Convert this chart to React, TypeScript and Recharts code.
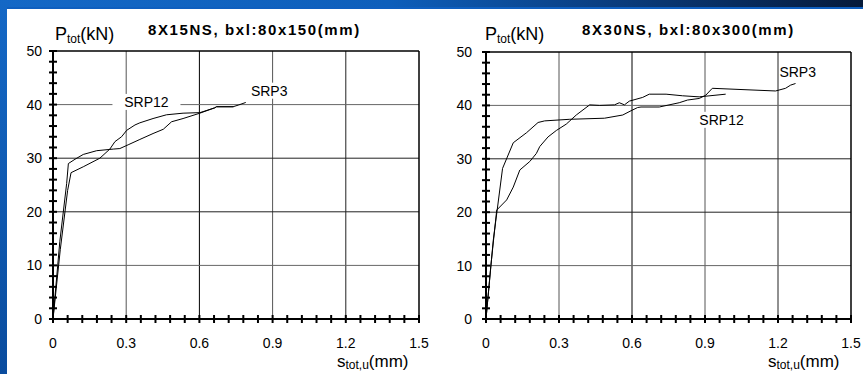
import React from "react";
import { LineChart, Line, XAxis, YAxis, ReferenceLine, ReferenceDot } from "recharts";

// axis ticks
const xLabels = ["0", "0.3", "0.6", "0.9", "1.2", "1.5"];
const xMajor = [0, 0.3, 0.6, 0.9, 1.2, 1.5];
const yMajor = [0, 10, 20, 30, 40, 50];
const xMinor = Array.from({ length: 26 }, (_, i) => +(i * 0.06).toFixed(2));
const yMinor = Array.from({ length: 26 }, (_, i) => i * 2);

// 8X15NS (left)
const leftSrp3X = [0, 0.028, 0.056, 0.063, 0.09, 0.124, 0.179, 0.247, 0.274, 0.308, 0.356, 0.41, 0.452, 0.486, 0.533, 0.602, 0.663, 0.67, 0.738, 0.759, 0.79];
const leftSrp3Y = [0, 14.5, 25.3, 29.0, 29.8, 30.7, 31.4, 31.7, 31.8, 32.5, 33.5, 34.6, 35.4, 36.8, 37.4, 38.4, 39.4, 39.6, 39.6, 39.9, 40.4];
const leftSrp12X = [0, 0.03, 0.06, 0.074, 0.124, 0.192, 0.233, 0.254, 0.281, 0.302, 0.336, 0.356, 0.41, 0.465, 0.533, 0.602, 0.663, 0.67, 0.74];
const leftSrp12Y = [0, 13, 24, 27.3, 28.4, 30.0, 31.7, 33.1, 34.0, 35.2, 36.2, 36.6, 37.4, 38.1, 38.4, 38.5, 39.4, 39.6, 39.6];

// 8X30NS (right)
const rightSrp3X = [0, 0.03, 0.068, 0.112, 0.167, 0.214, 0.241, 0.344, 0.487, 0.562, 0.596, 0.623, 0.637, 0.712, 0.794, 0.828, 0.876, 0.903, 0.93, 1.19, 1.231, 1.252, 1.272];
const rightSrp3Y = [0, 14.8, 28.2, 33.0, 34.9, 36.8, 37.1, 37.4, 37.6, 38.2, 39.0, 39.6, 39.7, 39.7, 40.5, 41.0, 41.3, 41.9, 43.2, 42.7, 43.2, 43.8, 44.1];
const rightSrp12X = [0, 0.02, 0.044, 0.085, 0.112, 0.139, 0.18, 0.207, 0.221, 0.255, 0.289, 0.33, 0.371, 0.426, 0.467, 0.528, 0.548, 0.569, 0.589, 0.644, 0.671, 0.74, 0.808, 0.876, 0.985];
const rightSrp12Y = [0, 10, 20.4, 22.3, 24.7, 27.9, 29.5, 31.0, 32.3, 34.1, 35.3, 36.5, 38.2, 40.1, 40.0, 40.1, 40.5, 40.1, 40.8, 41.5, 42.1, 42.1, 41.8, 41.6, 42.1];

const zip = (xs: number[], ys: number[]) => xs.map((x, i) => ({ x, y: ys[i] }));

const font = '"Liberation Sans", Arial, sans-serif';

const YTick = ({ x, y, payload, gap }: any) => {
  const v = payload.value;
  return (
    <g>
      <line x1={x - 4} x2={x + 4} y1={y} y2={y} stroke="#000" strokeWidth={2} />
      {v % 10 === 0 && (
        <text x={x - gap} y={y + 5} textAnchor="end" fontSize={14} fill="#000" fontFamily={font}>
          {v}
        </text>
      )}
    </g>
  );
};

const XTick = ({ x, y, payload }: any) => {
  const i = Math.round(payload.value / 0.06);
  return (
    <g>
      <line x1={x} x2={x} y1={y - 4} y2={y + 4} stroke="#000" strokeWidth={2} />
      {i % 5 === 0 && (
        <text x={x} y={y + 29} textAnchor="middle" fontSize={14} fill="#000" fontFamily={font}>
          {xLabels[i / 5]}
        </text>
      )}
    </g>
  );
};

const tag = (text: string, w: number, boxed: boolean) => (p: any) => (
  <g>
    {boxed && <rect x={p.cx - w / 2} y={p.cy - 8} width={w} height={16} fill="#fff" />}
    <text x={p.cx} y={p.cy + 5} textAnchor="middle" fontSize={14} fill="#000" fontFamily={font}>
      {text}
    </text>
  </g>
);

const gridX = [
  { v: 0.3, c: "#555" },
  { v: 0.6, c: "#000" },
  { v: 0.9, c: "#555" },
  { v: 1.2, c: "#222" },
];
const gridY = [
  { v: 10, c: "#666" },
  { v: 20, c: "#222" },
  { v: 30, c: "#222" },
  { v: 40, c: "#666" },
];

const Panel = ({ left, width, margin, gap, srp3, srp12, tags }: any) => (
  <div style={{ position: "absolute", left, top: 0 }}>
    <LineChart width={width} height={374} margin={margin}>
      <XAxis
        type="number"
        dataKey="x"
        domain={[0, 1.5]}
        ticks={xMinor}
        interval={0}
        height={30}
        tickSize={0}
        tickMargin={0}
        tickLine={false}
        axisLine={{ stroke: "#000", strokeWidth: 2 }}
        tick={<XTick />}
        allowDataOverflow
      />
      <YAxis
        type="number"
        dataKey="y"
        domain={[0, 50]}
        ticks={yMinor}
        interval={0}
        width={40}
        tickSize={0}
        tickMargin={0}
        tickLine={false}
        axisLine={{ stroke: "#000", strokeWidth: 2 }}
        tick={<YTick gap={gap} />}
        allowDataOverflow
      />
      {gridX.map((g) => (
        <ReferenceLine key={"gx" + g.v} x={g.v} stroke={g.c} strokeWidth={1} />
      ))}
      {gridY.map((g) => (
        <ReferenceLine key={"gy" + g.v} y={g.v} stroke={g.c} strokeWidth={1} />
      ))}
      <ReferenceLine x={xMajor[5]} stroke="#000" strokeWidth={1.5} />
      <ReferenceLine y={yMajor[5]} stroke="#000" strokeWidth={1.5} />
      {tags.map((t: any) => (
        <ReferenceDot key={t.text} x={t.x} y={t.y} r={0} ifOverflow="visible" shape={tag(t.text, t.w, t.boxed)} />
      ))}
      <Line data={srp12} dataKey="y" type="linear" stroke="#000" strokeWidth={1} dot={false} isAnimationActive={false} />
      <Line data={srp3} dataKey="y" type="linear" stroke="#000" strokeWidth={1} dot={false} isAnimationActive={false} />
    </LineChart>
  </div>
);

const Texts = ({ px, tx, title, sx }: any) => (
  <>
    <text x={px} y={40} fontSize={18} fontFamily={font}>
      P<tspan fontSize={12} dy={3}>tot</tspan>
      <tspan dy={-3}>(kN)</tspan>
    </text>
    <text x={tx} y={35} fontSize={15} fontWeight="bold" letterSpacing={1.6} fontFamily={font}>
      {title}
    </text>
    <text x={sx} y={367} fontSize={17} fontFamily={font}>
      s<tspan fontSize={12} dy={2}>tot,u</tspan>
      <tspan dy={-2}>(mm)</tspan>
    </text>
  </>
);

export default function App() {
  return (
    <div style={{ position: "absolute", left: 0, top: 0, width: 863, height: 374, overflow: "hidden", background: "#fff" }}>
      <div
        style={{
          position: "absolute",
          left: 0,
          top: 0,
          width: 863,
          height: 9,
          background: "linear-gradient(to right, #1468c6 0%, #0e5fbb 45%, #0a3e80 70%, #061a3a 100%)",
        }}
      />
      <div style={{ position: "absolute", left: 0, top: 7, width: 863, height: 2, background: "#0f5fbf" }} />
      <div style={{ position: "absolute", left: 0, top: 0, width: 7, height: 374, background: "linear-gradient(#1468c6, #0a4c9e)" }} />
      <Panel
        left={0}
        width={430}
        margin={{ top: 51, right: 11, bottom: 25, left: 13 }}
        gap={11}
        srp3={zip(leftSrp3X, leftSrp3Y)}
        srp12={zip(leftSrp12X, leftSrp12Y)}
        tags={[
          { text: "SRP12", x: 0.383, y: 40.5, w: 68, boxed: true },
          { text: "SRP3", x: 0.886, y: 42.6, w: 42, boxed: true },
        ]}
      />
      <Panel
        left={430}
        width={433}
        margin={{ top: 52, right: 12, bottom: 25, left: 16 }}
        gap={14}
        srp3={zip(rightSrp3X, rightSrp3Y)}
        srp12={zip(rightSrp12X, rightSrp12Y)}
        tags={[
          { text: "SRP12", x: 0.968, y: 37.3, w: 52, boxed: true },
          { text: "SRP3", x: 1.281, y: 46.2, w: 42, boxed: false },
        ]}
      />
      <svg width={863} height={374} style={{ position: "absolute", left: 0, top: 0, pointerEvents: "none" }}>
        <Texts px={55} tx={148} title="8X15NS, bxl:80x150(mm)" sx={337} />
        <Texts px={485} tx={582} title="8X30NS, bxl:80x300(mm)" sx={768} />
      </svg>
    </div>
  );
}
